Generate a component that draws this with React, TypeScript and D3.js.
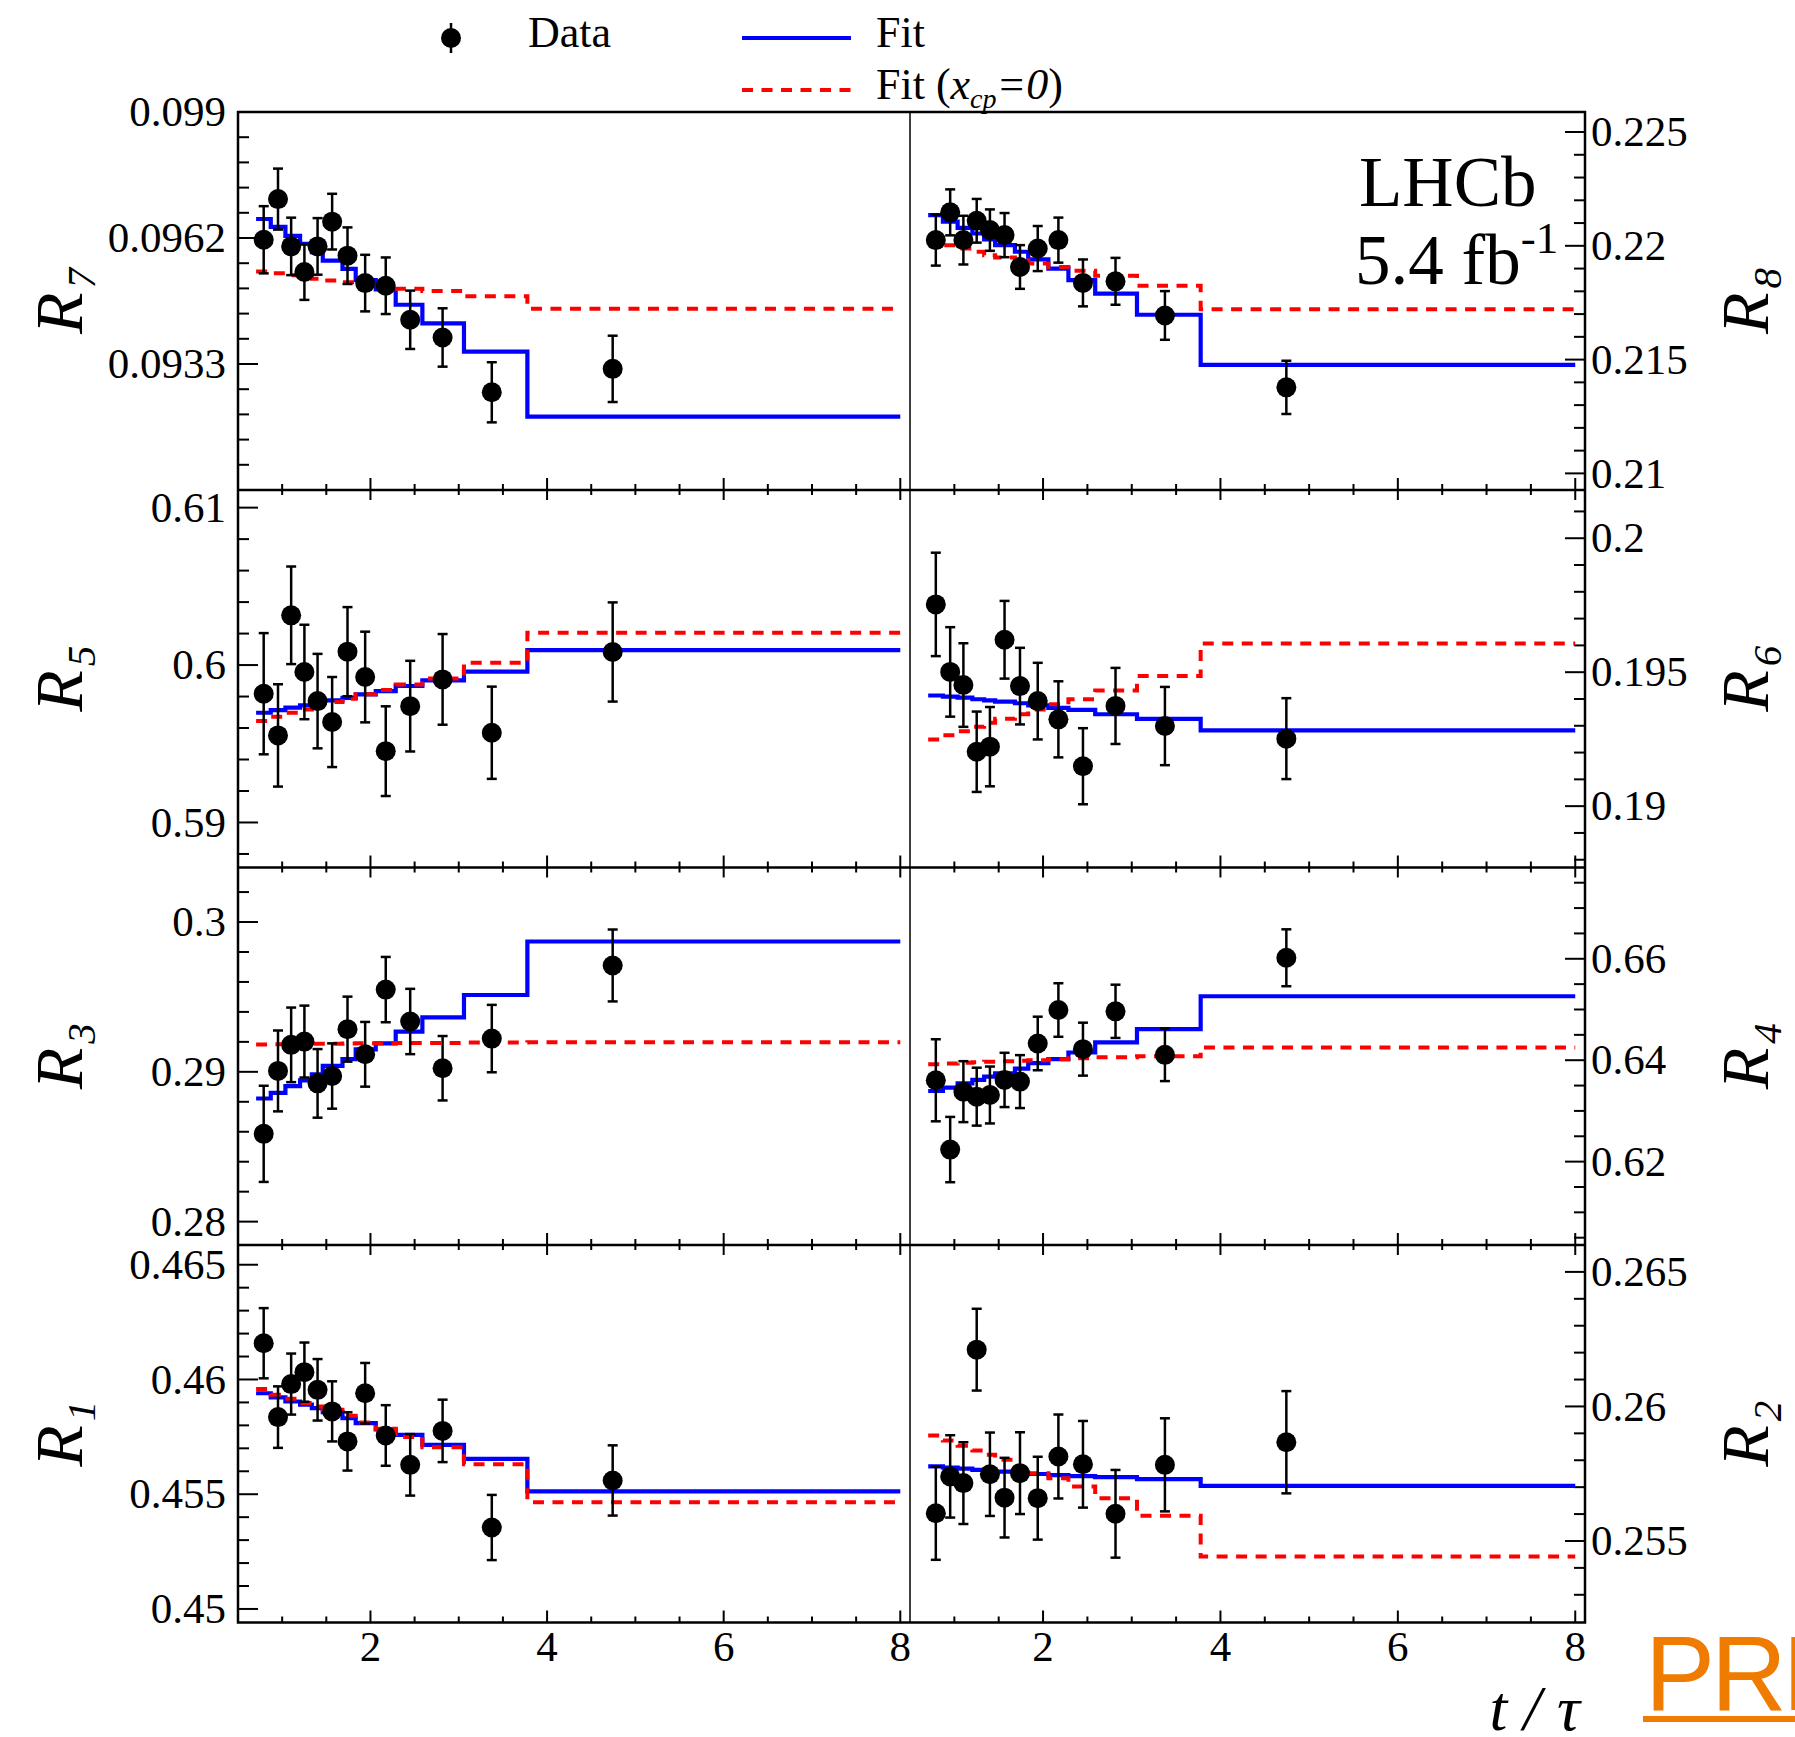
import React from 'react';
import * as d3 from 'd3';

// ---------- data ----------
const tCenters = [0.791, 0.953, 1.102, 1.252, 1.401, 1.566, 1.740, 1.940, 2.173, 2.450, 2.817, 3.374, 4.743];
const binEdges = [0.705, 0.871, 1.037, 1.203, 1.336, 1.46, 1.683, 1.833, 2.06, 2.286, 2.588, 3.059, 3.777, 8.0];

const r7Data = [0.09611, 0.09703, 0.09596, 0.09538, 0.09596, 0.09652, 0.09575, 0.09513, 0.09507, 0.09430, 0.09390, 0.09266, 0.09319];
const r7Err = [0.00076, 0.00069, 0.00065, 0.00063, 0.00064, 0.00063, 0.00064, 0.00064, 0.00064, 0.00066, 0.00066, 0.00068, 0.00075];
const r7Fit = [0.09658, 0.09640, 0.09620, 0.09602, 0.09583, 0.09564, 0.09545, 0.09520, 0.09499, 0.09464, 0.09422, 0.09358, 0.09211];
const r7Fit0 = [0.09539, 0.09535, 0.09531, 0.09527, 0.09523, 0.09519, 0.09515, 0.09511, 0.09505, 0.09500, 0.09495, 0.09483, 0.09455];

const r8Data = [0.22025, 0.22147, 0.22025, 0.22110, 0.22069, 0.22047, 0.21907, 0.21988, 0.22025, 0.21837, 0.21844, 0.21694, 0.21378];
const r8Err = [0.00112, 0.00101, 0.00107, 0.00096, 0.00091, 0.00097, 0.00096, 0.00099, 0.00099, 0.00103, 0.00103, 0.00107, 0.00117];
const r8Fit = [0.22135, 0.22106, 0.22079, 0.22054, 0.22028, 0.22003, 0.21974, 0.21940, 0.21900, 0.21849, 0.21790, 0.21697, 0.21477];
const r8Fit0 = [0.22018, 0.22003, 0.21988, 0.21974, 0.21959, 0.21949, 0.21937, 0.21922, 0.21907, 0.21890, 0.21868, 0.21824, 0.21721];

const r5Data = [0.59818, 0.59553, 0.60316, 0.59956, 0.59771, 0.59638, 0.60085, 0.59924, 0.59453, 0.59739, 0.59909, 0.59570, 0.60083];
const r5Err = [0.00385, 0.00325, 0.00310, 0.00300, 0.00300, 0.00286, 0.00283, 0.00288, 0.00285, 0.00288, 0.00288, 0.00293, 0.00315];
const r5Fit = [0.59697, 0.59714, 0.59729, 0.59744, 0.59761, 0.59775, 0.59792, 0.59814, 0.59835, 0.59867, 0.59903, 0.59958, 0.60095];
const r5Fit0 = [0.59644, 0.59672, 0.59697, 0.59718, 0.59744, 0.59765, 0.59786, 0.59814, 0.59841, 0.59877, 0.59915, 0.60015, 0.60206];

const r6Data = [0.19753, 0.19501, 0.19452, 0.19203, 0.19222, 0.19621, 0.19448, 0.19392, 0.19324, 0.19149, 0.19374, 0.19299, 0.19252];
const r6Err = [0.00193, 0.00167, 0.00156, 0.00150, 0.00148, 0.00145, 0.00143, 0.00143, 0.00142, 0.00142, 0.00142, 0.00146, 0.00151];
const r6Fit = [0.19413, 0.19409, 0.19405, 0.19399, 0.19395, 0.19390, 0.19384, 0.19376, 0.19367, 0.19359, 0.19343, 0.19326, 0.19283];
const r6Fit0 = [0.19249, 0.19265, 0.19280, 0.19296, 0.19311, 0.19326, 0.19343, 0.19361, 0.19380, 0.19399, 0.19432, 0.19486, 0.19607];

const r3Data = [0.28586, 0.29006, 0.29180, 0.29202, 0.28923, 0.28972, 0.29285, 0.29117, 0.29549, 0.29336, 0.29024, 0.29222, 0.29710];
const r3Err = [0.00321, 0.00270, 0.00249, 0.00240, 0.00229, 0.00218, 0.00217, 0.00216, 0.00218, 0.00218, 0.00215, 0.00225, 0.00240];
const r3Fit = [0.28822, 0.28860, 0.28905, 0.28943, 0.28983, 0.29040, 0.29085, 0.29150, 0.29190, 0.29268, 0.29364, 0.29513, 0.29870];
const r3Fit0 = [0.29183, 0.29184, 0.29185, 0.29186, 0.29187, 0.29188, 0.29189, 0.29190, 0.29191, 0.29192, 0.29193, 0.29195, 0.29197];

const r4Data = [0.63604, 0.62238, 0.63380, 0.63281, 0.63314, 0.63611, 0.63578, 0.64330, 0.64990, 0.64218, 0.64964, 0.64106, 0.66020];
const r4Err = [0.00809, 0.00644, 0.00601, 0.00571, 0.00561, 0.00535, 0.00522, 0.00528, 0.00528, 0.00522, 0.00525, 0.00518, 0.00561];
const r4Fit = [0.63393, 0.63459, 0.63545, 0.63611, 0.63677, 0.63743, 0.63835, 0.63941, 0.64020, 0.64152, 0.64350, 0.64614, 0.65261];
const r4Fit0 = [0.63920, 0.63935, 0.63950, 0.63960, 0.63970, 0.63980, 0.63990, 0.64000, 0.64020, 0.64040, 0.64060, 0.64080, 0.64250];

const r1Data = [0.46158, 0.45836, 0.45980, 0.46032, 0.45955, 0.45861, 0.45730, 0.45940, 0.45756, 0.45628, 0.45776, 0.45355, 0.45560];
const r1Err = [0.00153, 0.00134, 0.00133, 0.00129, 0.00134, 0.00131, 0.00127, 0.00132, 0.00132, 0.00134, 0.00136, 0.00142, 0.00153];
const r1Fit = [0.45940, 0.45922, 0.45904, 0.45890, 0.45875, 0.45858, 0.45831, 0.45810, 0.45783, 0.45759, 0.45715, 0.45654, 0.45512];
const r1Fit0 = [0.45958, 0.45933, 0.45916, 0.45897, 0.45882, 0.45868, 0.45842, 0.45813, 0.45785, 0.45749, 0.45705, 0.45631, 0.45465];

const r2Data = [0.25603, 0.25740, 0.25715, 0.26211, 0.25748, 0.25661, 0.25752, 0.25659, 0.25814, 0.25785, 0.25601, 0.25783, 0.25867];
const r2Err = [0.00173, 0.00153, 0.00152, 0.00152, 0.00155, 0.00148, 0.00152, 0.00154, 0.00156, 0.00161, 0.00163, 0.00173, 0.00190];
const r2Fit = [0.25777, 0.25773, 0.25769, 0.25764, 0.25762, 0.25758, 0.25754, 0.25749, 0.25745, 0.25741, 0.25737, 0.25730, 0.25705];
const r2Fit0 = [0.25892, 0.25873, 0.25854, 0.25836, 0.25820, 0.25802, 0.25774, 0.25752, 0.25733, 0.25702, 0.25659, 0.25594, 0.25442];

// axis ranges and ticks
const xDomain = [0.5, 8.11];
const xMajorTicks = [2, 4, 6, 8];
const xMajorLabels = ['2', '4', '6', '8'];
const xMinorStep = 0.5;

const r7Domain = [0.09045, 0.0990];
const r7Ticks = [0.099, 0.09615, 0.0933];
const r7Labels = ['0.099', '0.0962', '0.0933'];
const r8Domain = [0.20927, 0.22588];
const r8Ticks = [0.225, 0.22, 0.215, 0.21];
const r8Labels = ['0.225', '0.22', '0.215', '0.21'];
const r5Domain = [0.58714, 0.61112];
const r5Ticks = [0.61, 0.6, 0.59];
const r5Labels = ['0.61', '0.6', '0.59'];
const r6Domain = [0.18771, 0.2018];
const r6Ticks = [0.2, 0.195, 0.19];
const r6Labels = ['0.2', '0.195', '0.19'];
const r3Domain = [0.27844, 0.30364];
const r3Ticks = [0.3, 0.29, 0.28];
const r3Labels = ['0.3', '0.29', '0.28'];
const r4Domain = [0.60356, 0.678];
const r4Ticks = [0.66, 0.64, 0.62];
const r4Labels = ['0.66', '0.64', '0.62'];
const r1Domain = [0.44941, 0.46586];
const r1Ticks = [0.465, 0.46, 0.455, 0.45];
const r1Labels = ['0.465', '0.46', '0.455', '0.45'];
const r2Domain = [0.25197, 0.266];
const r2Ticks = [0.265, 0.26, 0.255];
const r2Labels = ['0.265', '0.26', '0.255'];

// ---------- layout ----------
const W = 1795;
const H = 1737;
const FRAME_L = 238;
const MID = 910;
const FRAME_R = 1585;
const ROW_Y = [112, 490, 867.5, 1245, 1622.5];
const serif = "'Liberation Serif', 'Times New Roman', serif";
const BLUE = '#0000ff';
const RED = '#ff0000';
const ORANGE = '#ef7b00';

type Panel = {
  label: string;
  row: number;
  col: number;
  data: number[];
  err: number[];
  fit: number[];
  fit0: number[];
  domain: number[];
  ticks: number[];
  labels: string[];
  minorStep: number;
};

const panels: Panel[] = [
  { label: '7', row: 0, col: 0, data: r7Data, err: r7Err, fit: r7Fit, fit0: r7Fit0, domain: r7Domain, ticks: r7Ticks, labels: r7Labels, minorStep: 0.00057 },
  { label: '8', row: 0, col: 1, data: r8Data, err: r8Err, fit: r8Fit, fit0: r8Fit0, domain: r8Domain, ticks: r8Ticks, labels: r8Labels, minorStep: 0.001 },
  { label: '5', row: 1, col: 0, data: r5Data, err: r5Err, fit: r5Fit, fit0: r5Fit0, domain: r5Domain, ticks: r5Ticks, labels: r5Labels, minorStep: 0.002 },
  { label: '6', row: 1, col: 1, data: r6Data, err: r6Err, fit: r6Fit, fit0: r6Fit0, domain: r6Domain, ticks: r6Ticks, labels: r6Labels, minorStep: 0.001 },
  { label: '3', row: 2, col: 0, data: r3Data, err: r3Err, fit: r3Fit, fit0: r3Fit0, domain: r3Domain, ticks: r3Ticks, labels: r3Labels, minorStep: 0.002 },
  { label: '4', row: 2, col: 1, data: r4Data, err: r4Err, fit: r4Fit, fit0: r4Fit0, domain: r4Domain, ticks: r4Ticks, labels: r4Labels, minorStep: 0.005 },
  { label: '1', row: 3, col: 0, data: r1Data, err: r1Err, fit: r1Fit, fit0: r1Fit0, domain: r1Domain, ticks: r1Ticks, labels: r1Labels, minorStep: 0.001 },
  { label: '2', row: 3, col: 1, data: r2Data, err: r2Err, fit: r2Fit, fit0: r2Fit0, domain: r2Domain, ticks: r2Ticks, labels: r2Labels, minorStep: 0.001 },
];

function PanelView({ p }: { p: Panel }) {
  const x0 = p.col === 0 ? FRAME_L : MID;
  const x1 = p.col === 0 ? MID : FRAME_R;
  const yTop = ROW_Y[p.row];
  const yBot = ROW_Y[p.row + 1];
  const x = d3.scaleLinear().domain(xDomain).range([x0, x1]);
  const y = d3.scaleLinear().domain(p.domain).range([yBot, yTop]);

  const line = d3
    .line<[number, number]>()
    .x((d) => x(d[0]))
    .y((d) => y(d[1]))
    .curve(d3.curveStepAfter);
  const stepPts = (vals: number[]) =>
    binEdges.map((e, i) => [e, vals[Math.min(i, vals.length - 1)]] as [number, number]);

  const xMinor = d3.range(1, 8.001, xMinorStep).filter((v) => !xMajorTicks.some((m) => Math.abs(m - v) < 1e-6));
  const anchor = p.ticks[0];
  const yMinor: number[] = [];
  for (let k = -80; k <= 80; k++) {
    const v = anchor + k * p.minorStep;
    const py = y(v);
    if (py > yTop + 1.5 && py < yBot - 1.5 && !p.ticks.some((t) => Math.abs(t - v) < p.minorStep * 0.1)) yMinor.push(v);
  }

  const axisX = p.col === 0 ? FRAME_L : FRAME_R;
  const dir = p.col === 0 ? 1 : -1;
  const cy = (yTop + yBot) / 2;
  const titleX = p.col === 0 ? 82 : 1768;

  return (
    <g>
      {xMajorTicks.map((v) => (
        <line key={'bM' + v} x1={x(v)} x2={x(v)} y1={yBot} y2={yBot - 12} stroke="#000" strokeWidth={2} />
      ))}
      {xMinor.map((v) => (
        <line key={'bm' + v} x1={x(v)} x2={x(v)} y1={yBot} y2={yBot - 6} stroke="#000" strokeWidth={2} />
      ))}
      {p.row > 0 &&
        xMajorTicks.map((v) => (
          <line key={'tM' + v} x1={x(v)} x2={x(v)} y1={yTop} y2={yTop + 10} stroke="#000" strokeWidth={2} />
        ))}
      {p.row > 0 &&
        xMinor.map((v) => (
          <line key={'tm' + v} x1={x(v)} x2={x(v)} y1={yTop} y2={yTop + 5} stroke="#000" strokeWidth={2} />
        ))}
      {p.ticks.map((v) => (
        <line key={'yM' + v} x1={axisX} x2={axisX + dir * 20} y1={y(v)} y2={y(v)} stroke="#000" strokeWidth={2} />
      ))}
      {yMinor.map((v) => (
        <line key={'ym' + v} x1={axisX} x2={axisX + dir * 11} y1={y(v)} y2={y(v)} stroke="#000" strokeWidth={2} />
      ))}
      {p.ticks.map((v, i) => (
        <text
          key={'yl' + v}
          x={p.col === 0 ? 226 : 1591}
          y={y(v)}
          dy="0.33em"
          textAnchor={p.col === 0 ? 'end' : 'start'}
          fontFamily={serif}
          fontSize={43}
        >
          {p.labels[i]}
        </text>
      ))}
      {p.row === 3 &&
        xMajorTicks.map((v, i) => (
          <text key={'xl' + v} x={x(v)} y={1661} textAnchor="middle" fontFamily={serif} fontSize={43}>
            {xMajorLabels[i]}
          </text>
        ))}
      <text
        transform={`translate(${titleX},${cy}) rotate(-90)`}
        textAnchor="middle"
        fontFamily={serif}
        fontStyle="italic"
        fontSize={68}
      >
        R
        <tspan fontSize={41} dy={13} dx={4}>
          {p.label}
        </tspan>
      </text>
      <path d={line(stepPts(p.fit)) || ''} fill="none" stroke={BLUE} strokeWidth={4.2} />
      <path d={line(stepPts(p.fit0)) || ''} fill="none" stroke={RED} strokeWidth={4} strokeDasharray="11 8.5" />
      {p.data.map((v, i) => {
        const px = x(tCenters[i]);
        const yh = y(v + p.err[i]);
        const yl = y(v - p.err[i]);
        return (
          <g key={'d' + i}>
            <line x1={px} x2={px} y1={yh} y2={yl} stroke="#000" strokeWidth={2.5} />
            <line x1={px - 5} x2={px + 5} y1={yh} y2={yh} stroke="#000" strokeWidth={2.5} />
            <line x1={px - 5} x2={px + 5} y1={yl} y2={yl} stroke="#000" strokeWidth={2.5} />
            <circle cx={px} cy={y(v)} r={10} fill="#000" />
          </g>
        );
      })}
    </g>
  );
}

export default function App() {
  return (
    <svg
      width={W}
      height={H}
      viewBox={`0 0 ${W} ${H}`}
      style={{ position: 'absolute', left: 0, top: 0, background: '#fff' }}
    >
      <rect x={0} y={0} width={W} height={H} fill="#fff" />
      {panels.map((p) => (
        <PanelView key={p.label} p={p} />
      ))}
      <rect
        x={FRAME_L}
        y={ROW_Y[0]}
        width={FRAME_R - FRAME_L}
        height={ROW_Y[4] - ROW_Y[0]}
        fill="none"
        stroke="#000"
        strokeWidth={2.5}
      />
      {ROW_Y.slice(1, 4).map((yy) => (
        <line key={'row' + yy} x1={FRAME_L} x2={FRAME_R} y1={yy} y2={yy} stroke="#000" strokeWidth={2.5} />
      ))}
      <line x1={MID} x2={MID} y1={ROW_Y[0]} y2={ROW_Y[4]} stroke="#000" strokeWidth={1.5} />

      {/* legend */}
      <line x1={451} x2={451} y1={23} y2={53} stroke="#000" strokeWidth={2.5} />
      <circle cx={451} cy={38} r={10} fill="#000" />
      <text x={528} y={47} fontFamily={serif} fontSize={44}>
        Data
      </text>
      <line x1={742} x2={851} y1={38} y2={38} stroke={BLUE} strokeWidth={4.2} />
      <text x={876} y={47} fontFamily={serif} fontSize={44}>
        Fit
      </text>
      <line x1={742} x2={851} y1={90} y2={90} stroke={RED} strokeWidth={4} strokeDasharray="11 8.5" />
      <text x={876} y={99} fontFamily={serif} fontSize={44}>
        Fit (
        <tspan fontStyle="italic">x</tspan>
        <tspan fontStyle="italic" fontSize={28} dy={9}>
          cp
        </tspan>
        <tspan fontStyle="italic" dy={-9}>
          =0
        </tspan>
        )
      </text>

      <text x={1359} y={206} fontFamily={serif} fontSize={71}>
        LHCb
      </text>
      <text x={1355} y={284} fontFamily={serif} fontSize={71}>
        5.4 fb
        <tspan fontSize={45} dy={-31}>
          -1
        </tspan>
      </text>

      <text x={1580} y={1730} textAnchor="end" fontFamily={serif} fontStyle="italic" fontSize={64}>
        t / τ
      </text>

      <text
        x={1645}
        y={1710}
        fontFamily="'Liberation Sans', Arial, sans-serif"
        fontSize={105}
        letterSpacing={-4}
        fill={ORANGE}
      >
        PRL
      </text>
      <rect x={1643} y={1716} width={W - 1643} height={6} fill={ORANGE} />
    </svg>
  );
}
